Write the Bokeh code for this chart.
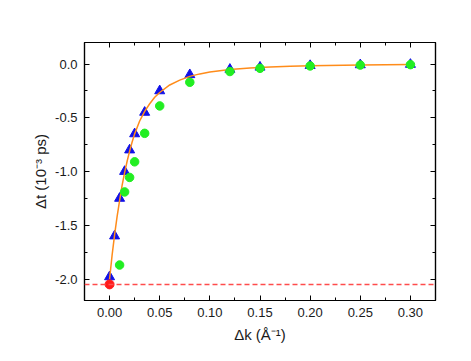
from bokeh.plotting import figure
from bokeh.models import LinearAxis, FixedTicker, NumeralTickFormatter, Span, Range1d
from bokeh.embed import file_html
from bokeh.resources import INLINE

# Blue triangles (data)
tri_x = [0.0, 0.005, 0.01, 0.015, 0.02, 0.025, 0.035, 0.05, 0.08, 0.12, 0.15, 0.20, 0.25, 0.30]
tri_y = [-1.98, -1.60, -1.25, -1.00, -0.80, -0.65, -0.45, -0.25, -0.10, -0.05, -0.03, -0.015, -0.008, -0.004]

# Green circles
grn_x = [0.01, 0.015, 0.02, 0.025, 0.035, 0.05, 0.08, 0.12, 0.15, 0.20, 0.25, 0.30]
grn_y = [-1.87, -1.19, -1.055, -0.91, -0.645, -0.39, -0.17, -0.07, -0.04, -0.018, -0.01, -0.006]

# Red point and reference level
red_x = [0.0]
red_y = [-2.05]
ref_level = -2.05

# Orange fit curve
fit_x = [0.0, 0.0025, 0.005, 0.0075, 0.01, 0.0125, 0.015, 0.0175, 0.02, 0.0225, 0.025, 0.03, 0.035, 0.04,
         0.045, 0.05, 0.06, 0.07, 0.08, 0.09, 0.10, 0.12, 0.14, 0.16, 0.18, 0.20, 0.25, 0.30]
fit_y = [-2.00, -1.78, -1.59, -1.42, -1.27, -1.13, -1.01, -0.905, -0.81, -0.725, -0.65, -0.53, -0.44, -0.37,
         -0.31, -0.265, -0.195, -0.15, -0.115, -0.092, -0.075, -0.052, -0.038, -0.028, -0.021, -0.016, -0.009, -0.005]

x_ticks = [0.0, 0.05, 0.10, 0.15, 0.20, 0.25, 0.30]
x_minor = [-0.025, 0.025, 0.075, 0.125, 0.175, 0.225, 0.275, 0.325]
y_ticks = [-2.0, -1.5, -1.0, -0.5, 0.0]
y_minor = [-2.25, -1.75, -1.25, -0.75, -0.25, 0.25]

FONT = "Liberation Sans"

p = figure(width=455, height=345, output_backend="svg", toolbar_location=None,
           x_range=Range1d(-0.025, 0.325), y_range=Range1d(-2.2, 0.2),
           min_border_left=84, min_border_right=20, min_border_top=42, min_border_bottom=41,
           x_axis_label="Δk (Å⁻¹)", y_axis_label="Δt (10⁻³ ps)")
p.grid.visible = False
p.outline_line_color = "black"
p.outline_line_width = 1.2
p.background_fill_color = "white"
p.border_fill_color = "white"

def style(ax, ticks, minor, fmt, labels=True):
    ax.ticker = FixedTicker(ticks=ticks, minor_ticks=minor)
    ax.formatter = NumeralTickFormatter(format=fmt)
    ax.major_tick_in = 5
    ax.major_tick_out = 0
    ax.minor_tick_in = 3
    ax.minor_tick_out = 0
    ax.axis_line_color = "black"
    ax.axis_line_width = 1.2
    ax.major_tick_line_color = "black"
    ax.minor_tick_line_color = "black"
    ax.major_label_text_font = FONT
    ax.major_label_text_font_size = "13px"
    ax.major_label_text_color = "#1a1a1a"
    ax.axis_label_text_font = FONT
    ax.axis_label_text_font_size = "15px"
    ax.axis_label_text_font_style = "normal"
    ax.axis_label_text_color = "#1a1a1a"
    if not labels:
        ax.major_label_text_font_size = "0px"
        ax.major_label_text_color = None

style(p.xaxis[0], x_ticks, x_minor, "0.00")
style(p.yaxis[0], y_ticks, y_minor, "0.0")
p.xaxis[0].axis_label_standoff = 6
p.yaxis[0].axis_label_standoff = 3
p.xaxis[0].major_label_standoff = 7
p.yaxis[0].major_label_standoff = 7

top = LinearAxis()
style(top, x_ticks, x_minor, "0.00", labels=False)
p.add_layout(top, "above")
right = LinearAxis()
style(right, y_ticks, y_minor, "0.0", labels=False)
p.add_layout(right, "right")

span = Span(location=ref_level, dimension="width", line_color="#ff4c4c",
            line_width=1.5, line_dash="5 3")
p.add_layout(span)

p.scatter(tri_x, tri_y, marker="triangle", size=10, fill_color="#1010e8", line_color="#1010e8")
p.scatter(red_x, red_y, marker="circle", size=9, fill_color="#ff1a1a", line_color="#ff1a1a")
p.line(fit_x, fit_y, line_color="#ff8c1a", line_width=1.5)
p.scatter(grn_x, grn_y, marker="circle", size=8.5, fill_color="#22ee22", line_color="#22ee22")

open("out.html", "w").write(file_html(p, INLINE))
